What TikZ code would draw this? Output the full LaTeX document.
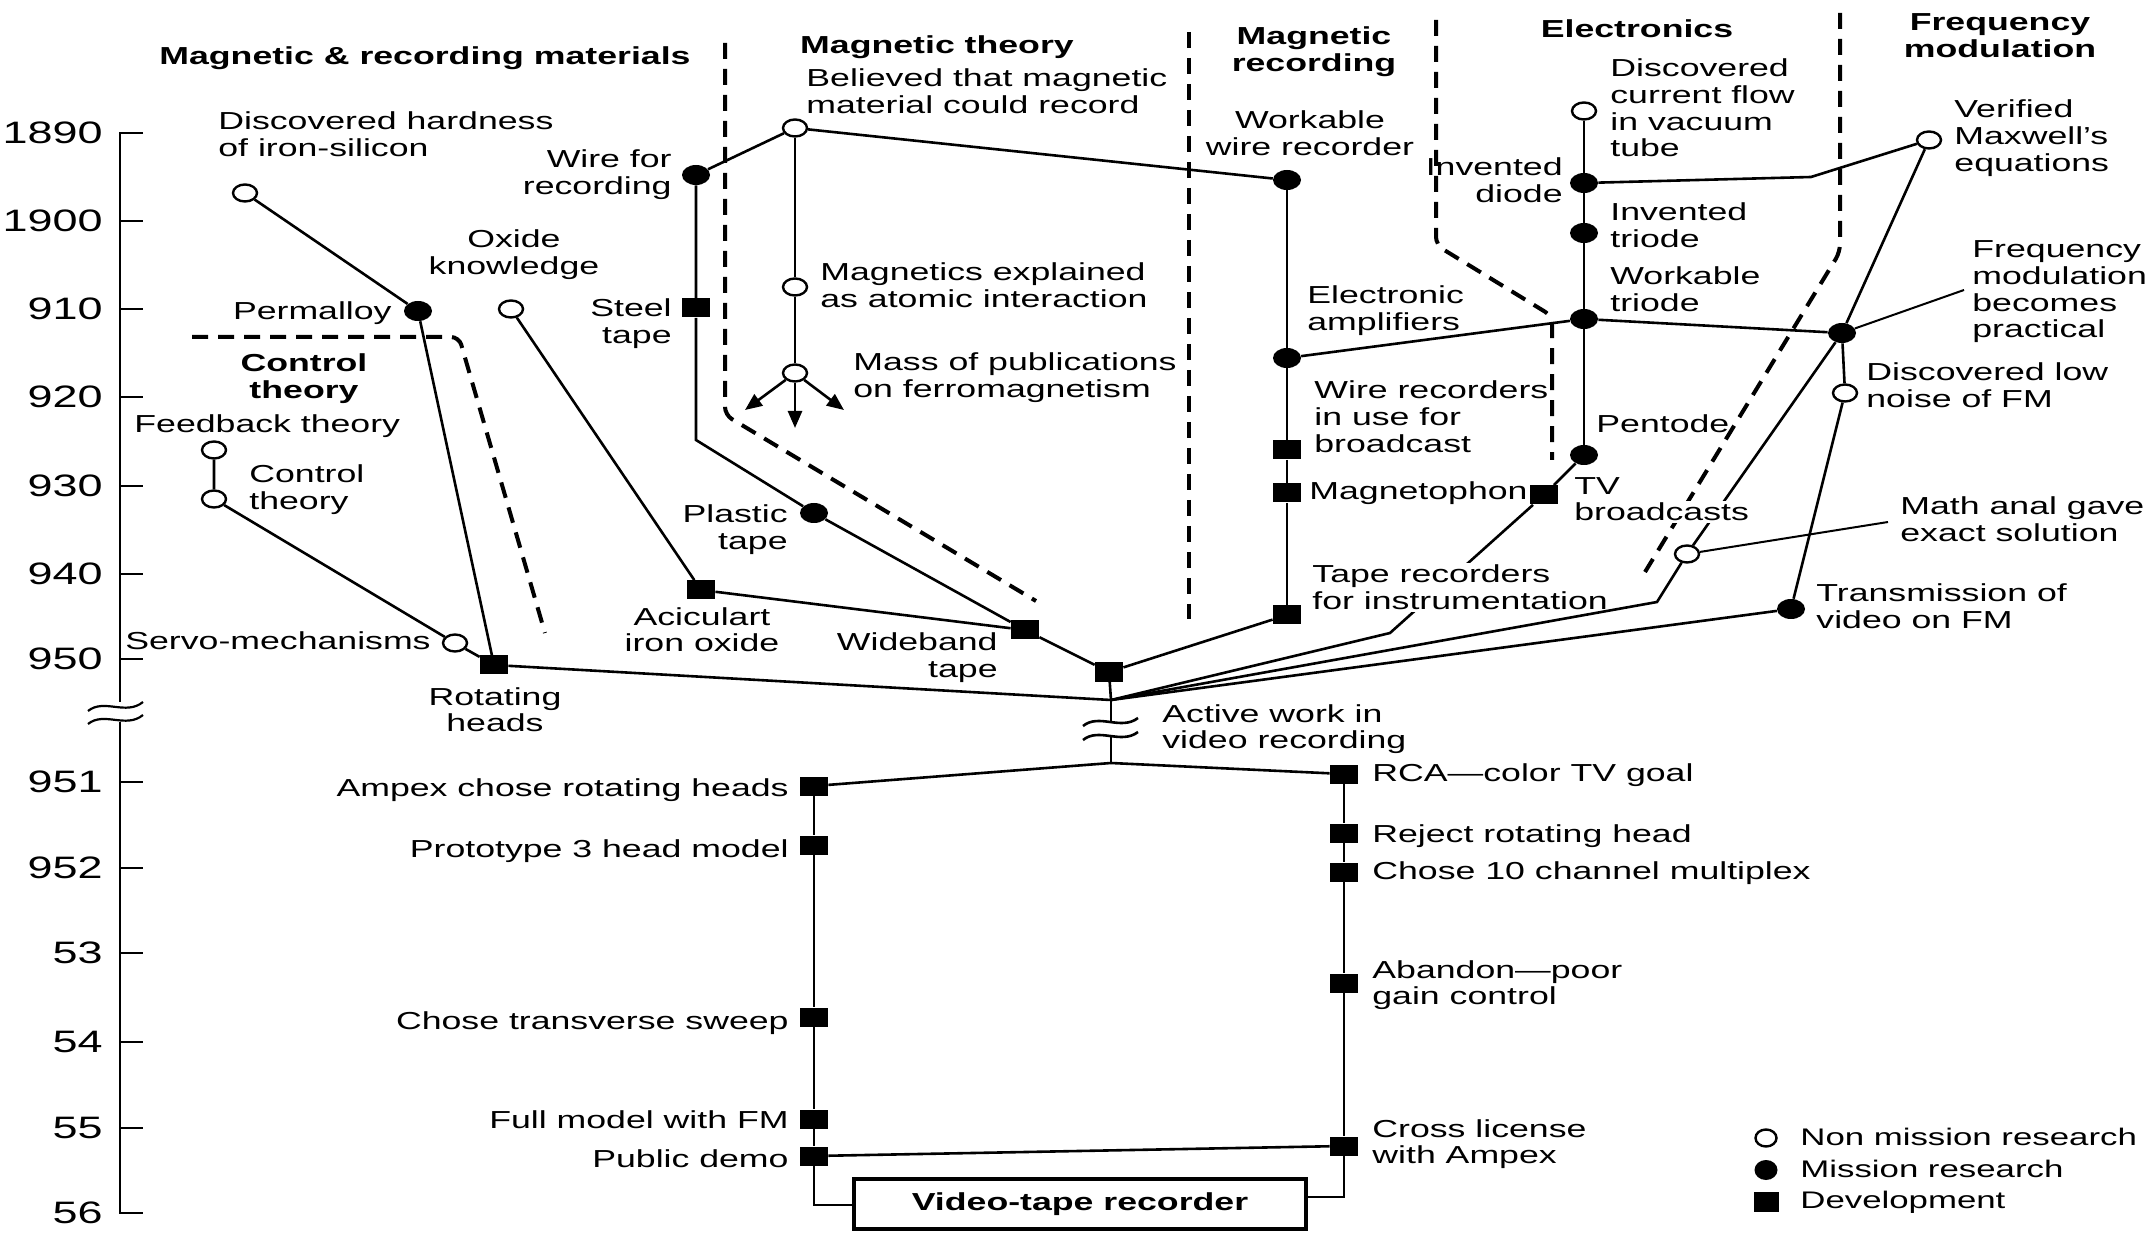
\documentclass[tikz,border=0pt]{standalone}
\usepackage{fontspec}
\setmainfont{Liberation Sans}[FakeStretch=1.45]
\usetikzlibrary{shapes.geometric,arrows.meta}

% multi-line label bodies whose baseline is the first line
\newcommand\Lcol[1]{\vtop{\halign{##\hfil\cr#1\crcr}}}
\newcommand\Rcol[1]{\vtop{\halign{\hfil##\cr#1\crcr}}}
\newcommand\Ccol[1]{\vtop{\halign{\hfil##\hfil\cr#1\crcr}}}

\tikzset{
  every node/.style={font=\fontsize{12.3}{13.3}\selectfont, inner sep=0pt},
  hdr/.style={font=\fontsize{12.3}{13.3}\selectfont\bfseries},
  yearfont/.style={font=\fontsize{15.5}{16}\selectfont},
  legendfont/.style={font=\fontsize{12}{13}\selectfont},
  conn/.style={line width=1.3pt},
  leader/.style={line width=1pt},
  axisline/.style={line width=1.1pt},
  divider/.style={line width=2pt, dash pattern=on 8pt off 5pt, rounded corners=4pt},
  nonmission/.style={ellipse, draw, fill=white, line width=1.2pt,
    minimum width=12pt, minimum height=8.5pt, inner sep=0pt},
  mission/.style={ellipse, fill=black, minimum width=14pt, minimum height=10pt, inner sep=0pt},
  devel/.style={rectangle, fill=black, minimum width=14pt, minimum height=9.5pt, inner sep=0pt},
  knock/.style={fill=white, inner sep=1pt},
  tip/.style={-{Triangle[length=8.5pt,width=7pt]}},
}

\begin{document}
\begin{tikzpicture}[x=0.5pt,y=-0.5pt]
\useasboundingbox (0,0) rectangle (2149,1235);

% ---------------- time axis ----------------
\draw[axisline] (143,133) -- (120,133) -- (120,702);
\draw[axisline] (120,722) -- (120,1213) -- (143,1213);
\foreach \y in {221, 309, 397, 486, 574, 659, 782, 868, 953, 1042, 1128}
  \draw[axisline] (120,\y) -- (143,\y);
\foreach \y/\t/\n in {133/1890/a0, 221/1900/a, 309/910/b, 397/920/c, 486/930/d, 574/940/e, 659/950/f,
                      782/951/g, 868/952/h, 953/53/i, 1042/54/j, 1128/55/k, 1213/56/l}
  \node[yearfont, anchor=east] (yr\n) at (103,\y) {\t};
\draw[axisline] (88,711) .. controls (104,698) and (126,716) .. (143,702);
\draw[axisline] (88,724) .. controls (104,711) and (126,729) .. (143,715);

% ---------------- field dividers ----------------
\draw[divider] (192,337) -- (459,337) -- (545,633);
\draw[divider] (725,43) -- (725,415) -- (1036,601);
\draw[divider] (1189,32) -- (1189,619);
\draw[divider] (1436,20) -- (1436,245) -- (1552,316) -- (1552,460);
\draw[divider] (1840,13) -- (1840,252) -- (1645,572);

% ---------------- headings ----------------
\node[hdr, anchor=base] (hMat) at (425,65) {Magnetic \& recording materials};
\node[hdr, anchor=base] (hTheory) at (937,54) {Magnetic theory};
\node[hdr, anchor=base] (hRec) at (1314,45) {\Ccol{Magnetic\cr recording}};
\node[hdr, anchor=base] (hElec) at (1637,38) {Electronics};
\node[hdr, anchor=base] (hFM) at (2000,31) {\Ccol{Frequency\cr modulation}};
\node[hdr, anchor=base] (hCtrl) at (304,372) {\Ccol{Control\cr theory}};

% ---------------- events ----------------
% materials
\node[nonmission] (iron) at (245,193) {};
\node[mission] (perm) at (418,311) {};
\node[nonmission] (oxide) at (511,309) {};
\node[devel] (acic) at (701,590) {};
\node[mission] (wire) at (696,175) {};
\node[devel] (steel) at (696,308) {};
\coordinate (bendW) at (696,440);
\node[mission] (plastic) at (814,513) {};
\node[devel] (wide) at (1025,630) {};
\node[devel] (rot) at (494,665) {};
\node[nonmission] (servo) at (455,643) {};
\node[nonmission] (ctrl) at (214,499) {};
\node[nonmission] (feed) at (214,450) {};
\node[devel] (central) at (1109,672) {};
\coordinate (junction) at (1111,700);
% theory
\node[nonmission] (believed) at (795,128) {};
\node[nonmission] (magexp) at (795,287) {};
\node[nonmission] (mass) at (795,373) {};
\coordinate (tipL) at (745,410);
\coordinate (tipD) at (795,428);
\coordinate (tipR) at (844,410);
% recording
\node[mission] (workable) at (1287,180) {};
\node[mission] (amp) at (1287,358) {};
\node[devel] (wirebc) at (1287,450) {};
\node[devel] (magneto) at (1287,493) {};
\node[devel] (tapeinst) at (1287,615) {};
% electronics
\node[nonmission] (curflow) at (1584,111) {};
\node[mission] (diode) at (1584,183) {};
\node[mission] (triode) at (1584,233) {};
\node[mission] (wtriode) at (1584,319) {};
\node[mission] (pentode) at (1584,455) {};
\node[devel] (tv) at (1544,495) {};
\coordinate (bendTV) at (1390,633);
\coordinate (diodeBend) at (1811,177);
% frequency modulation
\node[nonmission] (maxwell) at (1929,140) {};
\node[mission] (fmprac) at (1842,333) {};
\node[nonmission] (lownoise) at (1845,393) {};
\node[nonmission] (mathanal) at (1687,554) {};
\coordinate (bendM) at (1657,602);
\node[mission] (transm) at (1791,609) {};
\coordinate (fmlead) at (1964,290);
\coordinate (mathlead) at (1888,522);

% ---------------- connectors ----------------
\draw[conn] (iron) -- (perm) -- (rot);
\draw[conn] (oxide) -- (acic) -- (wide);
\draw[conn] (wire) -- (steel) -- (bendW) -- (plastic) -- (wide) -- (central);
\draw[conn] (wire) -- (believed) -- (workable);
\draw[conn] (believed) -- (magexp) -- (mass);
\draw[conn, tip] (mass) -- (tipL);
\draw[conn, tip] (mass) -- (tipD);
\draw[conn, tip] (mass) -- (tipR);
\draw[conn] (feed) -- (ctrl) -- (servo) -- (rot);
\draw[conn] (rot) -- (junction);
\draw[conn] (central) -- (junction);
\draw[conn] (workable) -- (amp) -- (wirebc) -- (magneto) -- (tapeinst);
\draw[conn] (tapeinst) -- (central);
\draw[conn] (amp) -- (wtriode);
\draw[conn] (curflow) -- (diode) -- (triode) -- (wtriode) -- (pentode);
\draw[conn] (diode) -- (diodeBend) -- (maxwell);
\draw[conn] (wtriode) -- (fmprac);
\draw[conn] (maxwell) -- (fmprac) -- (mathanal);
\draw[conn] (fmprac) -- (lownoise) -- (transm);
\draw[conn] (pentode) -- (tv) -- (bendTV) -- (junction);
\draw[leader] (fmprac) -- (fmlead);
\draw[leader] (mathanal) -- (mathlead);

% labels that sit over lines
\node[anchor=base west, knock] (lTape) at (1310,583) {\Lcol{Tape recorders\cr for instrumentation}};
\node[anchor=base west] (lTV) at (1574,495) {TV};
\node[anchor=base west, knock] (lBroad) at (1572,521) {broadcasts};

\draw[conn] (mathanal) -- (bendM) -- (junction);
\draw[conn] (transm) -- (junction);

% ---------------- event labels ----------------
\node[anchor=base west] (lIron) at (218,130) {\Lcol{Discovered hardness\cr of iron-silicon}};
\node[anchor=base east] (lPerm) at (392,320) {Permalloy};
\node[anchor=base] (lOxide) at (514,248) {\Ccol{Oxide\cr knowledge}};
\node[anchor=base east] (lWire) at (672,168) {\Rcol{Wire for\cr recording}};
\node[anchor=base east] (lSteel) at (672,317) {\Rcol{Steel\cr tape}};
\node[anchor=base east] (lPlastic) at (788,523) {\Rcol{Plastic\cr tape}};
\node[anchor=base] (lAcic) at (702,625) {\Ccol{Aciculart\cr iron oxide}};
\node[anchor=base east] (lWide) at (998,651) {\Rcol{Wideband\cr tape}};
\node[anchor=base] (lRot) at (495,705) {\Ccol{Rotating\cr heads}};
\node[anchor=base east] (lServo) at (431,649) {Servo-mechanisms};
\node[anchor=base west] (lFeed) at (134,433) {Feedback theory};
\node[anchor=base west] (lCtrl) at (249,483) {\Lcol{Control\cr theory}};
\node[anchor=base west] (lBel) at (806,87) {\Lcol{Believed that magnetic\cr material could record}};
\node[anchor=base west] (lMagExp) at (820,281) {\Lcol{Magnetics explained\cr as atomic interaction}};
\node[anchor=base west] (lMass) at (853,371) {\Lcol{Mass of publications\cr on ferromagnetism}};
\node[anchor=base] (lWork) at (1310,129) {\Ccol{Workable\cr wire recorder}};
\node[anchor=base west] (lAmp) at (1307,304) {\Lcol{Electronic\cr amplifiers}};
\node[anchor=base west] (lWireBC) at (1314,399) {\Lcol{Wire recorders\cr in use for\cr broadcast}};
\node[anchor=base west] (lMagneto) at (1309,500) {Magnetophon};
\node[anchor=base west] (lCur) at (1610,77) {\Lcol{Discovered\cr current flow\cr in vacuum\cr tube}};
\node[anchor=base east] (lDiode) at (1563,176) {\Rcol{Invented\cr diode}};
\node[anchor=base west] (lTriode) at (1610,221) {\Lcol{Invented\cr triode}};
\node[anchor=base west] (lWTriode) at (1610,285) {\Lcol{Workable\cr triode}};
\node[anchor=base west] (lPent) at (1596,433) {Pentode};
\node[anchor=base west] (lMax) at (1954,118) {\Lcol{Verified\cr Maxwell's\cr equations}};
\node[anchor=base west] (lFMP) at (1972,258) {\Lcol{Frequency\cr modulation\cr becomes\cr practical}};
\node[anchor=base west] (lLow) at (1866,381) {\Lcol{Discovered low\cr noise of FM}};
\node[anchor=base west] (lMath) at (1900,515) {\Lcol{Math anal gave\cr exact solution}};
\node[anchor=base west] (lTrans) at (1816,602) {\Lcol{Transmission of\cr video on FM}};

% ---------------- video recording work ----------------
\coordinate (brkTop) at (1111,722);
\coordinate (brkBot) at (1111,736);
\coordinate (split) at (1111,763);
\draw[conn] (junction) -- (brkTop);
\draw[conn] (brkBot) -- (split);
\draw[conn] (1083,726) .. controls (1099,713) and (1121,731) .. (1138,718);
\draw[conn] (1083,740) .. controls (1099,727) and (1121,745) .. (1138,732);
\node[anchor=base west] (lActive) at (1162,722) {\Lcol{Active work in\cr video recording}};

\node[devel] (ampex) at (814,786) {};
\node[devel] (proto) at (814,845) {};
\node[devel] (transv) at (814,1017) {};
\node[devel] (fullm) at (814,1119) {};
\node[devel] (demo) at (814,1156) {};
\coordinate (cornerBL) at (814,1205);
\node[devel] (rca) at (1344,774) {};
\node[devel] (reject) at (1344,833) {};
\node[devel] (chose10) at (1344,872) {};
\node[devel] (abandon) at (1344,983) {};
\node[devel] (cross) at (1344,1146) {};
\coordinate (cornerBR) at (1344,1197);
\node[draw, line width=1.6pt, minimum width=226pt, minimum height=25pt, hdr] (vtr) at (1080,1204) {Video-tape recorder};

\draw[conn] (split) -- (ampex);
\draw[conn] (split) -- (rca);
\draw[conn] (ampex) -- (proto) -- (transv) -- (fullm) -- (demo) -- (cornerBL) -- (cornerBL -| vtr.west);
\draw[conn] (rca) -- (reject) -- (chose10) -- (abandon) -- (cross) -- (cornerBR) -- (cornerBR -| vtr.east);
\draw[conn] (demo) -- (cross);

\node[anchor=base east] (lAmpex) at (789,796) {Ampex chose rotating heads};
\node[anchor=base east] (lProto) at (789,857) {Prototype 3 head model};
\node[anchor=base east] (lTransv) at (789,1029) {Chose transverse sweep};
\node[anchor=base east] (lFull) at (789,1128) {Full model with FM};
\node[anchor=base east] (lDemo) at (789,1167) {Public demo};
\node[anchor=base west] (lRCA) at (1372,781) {RCA—color TV goal};
\node[anchor=base west] (lReject) at (1372,842) {Reject rotating head};
\node[anchor=base west] (lChose) at (1372,879) {Chose 10 channel multiplex};
\node[anchor=base west] (lAbandon) at (1372,978) {\Lcol{Abandon—poor\cr gain control}};
\node[anchor=base west] (lCross) at (1372,1137) {\Lcol{Cross license\cr with Ampex}};

% ---------------- legend ----------------
\node[nonmission, minimum width=10.5pt, minimum height=8.5pt] (keyOpen) at (1766,1138) {};
\node[mission, minimum width=11.5pt, minimum height=10pt] (keyFilled) at (1766,1170) {};
\node[devel, minimum width=12.5pt, minimum height=10pt] (keySquare) at (1766,1202) {};
\node[legendfont, anchor=base west] (kOpen) at (1800,1145) {Non mission research};
\node[legendfont, anchor=base west] (kFilled) at (1800,1177) {Mission research};
\node[legendfont, anchor=base west] (kSquare) at (1800,1208) {Development};
\end{tikzpicture}
\end{document}
